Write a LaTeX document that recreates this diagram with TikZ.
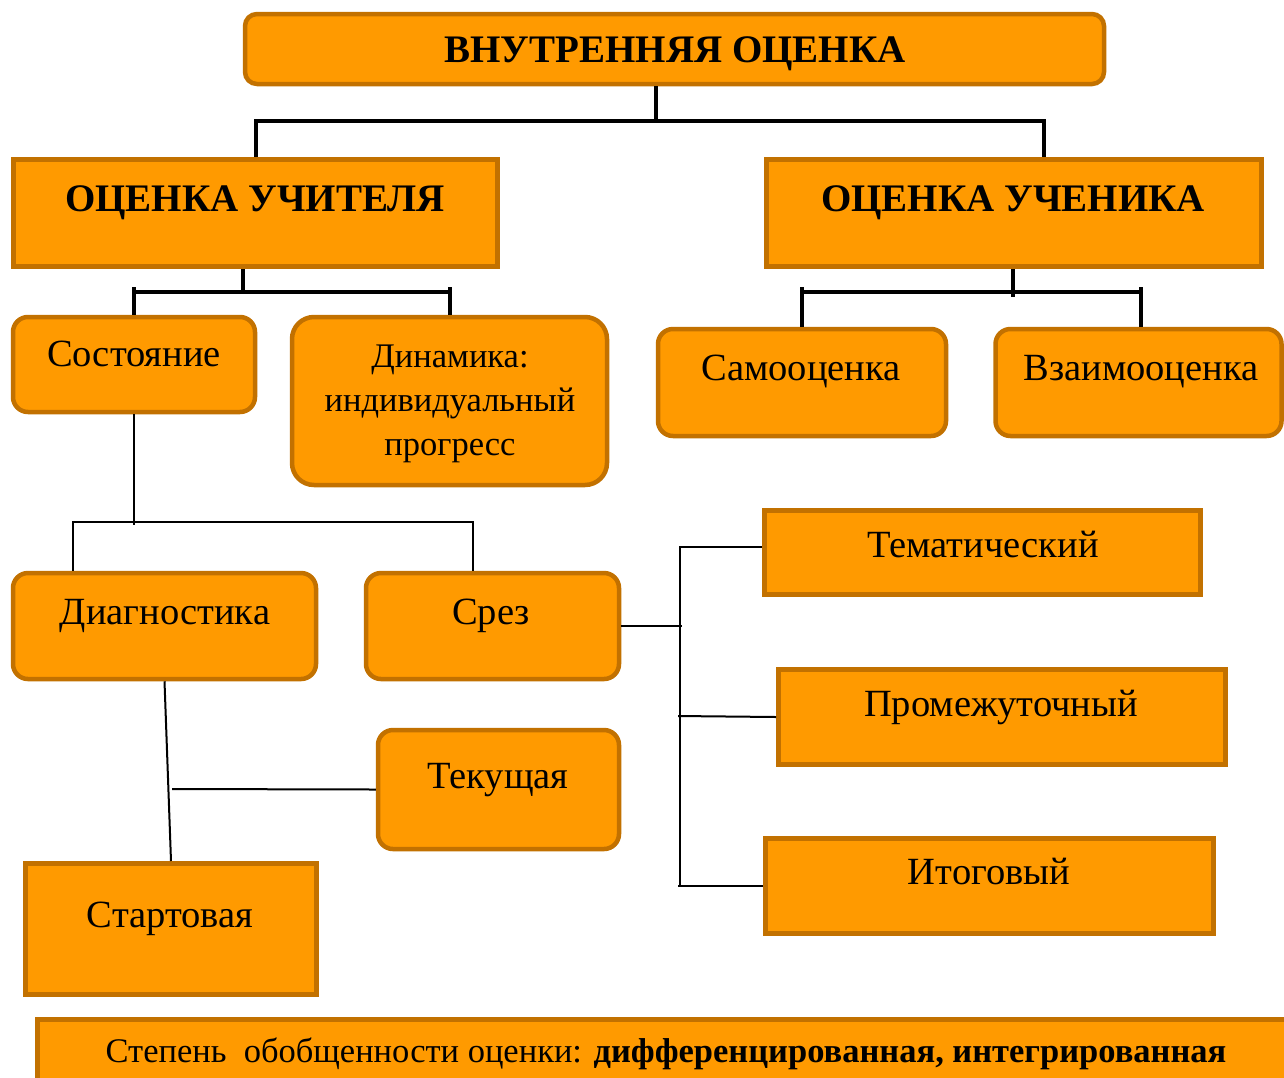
\documentclass[tikz,border=0pt]{standalone}
\usepackage{fontspec}
\setmainfont{Liberation Serif}
\definecolor{fillor}{HTML}{FF9A00}
\definecolor{edgeor}{HTML}{C27100}
\begin{document}
\begin{tikzpicture}[x=1pt,y=-1pt,
  sq/.style={draw=edgeor, fill=fillor, line width=5pt, inner sep=0pt},
  rd/.style={draw=edgeor, fill=fillor, line width=4.5pt, inner sep=0pt, rounded corners=15pt},
  lb/.style={anchor=base, inner sep=0pt, font=\fontsize{38.5}{44}\selectfont, align=center},
  hb/.style={anchor=base, inner sep=0pt, font=\fontsize{39}{44}\selectfont\bfseries},
  thk/.style={line width=4pt, black},
  thn/.style={line width=2pt, black}]
\useasboundingbox (0,0) rectangle (1284,1077);

% boxes
\node[rd, rounded corners=12pt, minimum width=859pt, minimum height=70pt] (top) at (674.5,49) {};
\node[sq, minimum width=484pt, minimum height=107pt] (teacher) at (255.5,213) {};
\node[sq, minimum width=495pt, minimum height=107pt] (student) at (1014,213) {};
\node[rd, minimum width=242pt, minimum height=95pt] (state) at (134,364.5) {};
\node[rd, rounded corners=22pt, minimum width=315pt, minimum height=168pt] (dyn) at (449.5,401) {};
\node[rd, minimum width=288pt, minimum height=107pt] (self) at (802,382.5) {};
\node[rd, minimum width=286pt, minimum height=107pt] (mutual) at (1138.5,382.5) {};
\node[rd, minimum width=303pt, minimum height=106pt] (diag) at (164.5,626) {};
\node[rd, minimum width=253pt, minimum height=106pt] (srez) at (492.5,626) {};
\node[rd, minimum width=241pt, minimum height=119pt] (tek) at (498.5,789.5) {};
\node[sq, minimum width=291pt, minimum height=131pt] (start) at (171,929) {};
\node[sq, minimum width=436pt, minimum height=84pt] (them) at (982.5,552.5) {};
\node[sq, minimum width=447pt, minimum height=95pt] (prom) at (1002,717) {};
\node[sq, minimum width=448pt, minimum height=95pt] (itog) at (989.5,886) {};
\node[sq, minimum width=1250pt, minimum height=78pt] (bottom) at (662.5,1058.5) {};

% texts
\node[hb] (topt) at (675,62) {ВНУТРЕННЯЯ ОЦЕНКА};
\node[hb] (teachert) at (255,211) {ОЦЕНКА УЧИТЕЛЯ};
\node[hb] (studentt) at (1013,211) {ОЦЕНКА УЧЕНИКА};
\node[lb] (statet) at (134,366) {Состояние};
\node[anchor=base, inner sep=0pt, font=\fontsize{34.5}{44}\selectfont, align=center] (dynt) at (450,455) {Динамика:\\индивидуальный\\прогресс};
\node[lb] (selft) at (801,380) {Самооценка};
\node[lb] (mutualt) at (1141,380) {Взаимооценка};
\node[lb] (diagt) at (165,624) {Диагностика};
\node[lb] (srezt) at (491,624) {Срез};
\node[lb] (tekt) at (498,788) {Текущая};
\node[lb] (startt) at (170,927) {Стартовая};
\node[lb] (themt) at (983,557) {Тематический};
\node[lb] (promt) at (1001,716) {Промежуточный};
\node[lb] (itogt) at (989,884) {Итоговый};
\node[anchor=base, inner sep=0pt, font=\fontsize{34.5}{40}\selectfont] (bottomt) at (666,1062) {Степень\ \ обобщенности оценки: \textbf{дифференцированная, интегрированная}};

% thick connectors
\coordinate (jt) at (656,121);
\coordinate (js) at (1044,121);
\draw[thk] (top.south -| jt) -- (jt);
\draw[thk] (teacher.north) -- (teacher.north |- js) -- (js) -- (js |- student.north);
\coordinate (ja) at (243,292);
\draw[thk] (ja |- teacher.south) -- (ja);
\draw[thk] (state.north |- ja) -- (dyn.north |- ja);
\draw[thk] ([yshift=5pt]state.north |- ja) -- (state.north);
\draw[thk] ([yshift=5pt]dyn.north |- ja) -- (dyn.north);
\coordinate (jb) at (1013,292);
\draw[thk] (jb |- student.south) -- ([yshift=-5pt]jb);
\draw[thk] (self.north |- jb) -- (1141,292);
\draw[thk] ([yshift=5pt]self.north |- jb) -- (self.north);
\draw[thk] ([yshift=5pt]1141,292) -- (1141,327);

% thin connectors
\coordinate (jc) at (134,522);
\coordinate (jcl) at (73,522);
\coordinate (jcr) at (473,522);
\draw[thn] (state.south) -- ([yshift=-3pt]jc);
\draw[thn] (jcl |- diag.north) -- (jcl) -- (jcr) -- (jcr |- srez.north);
\coordinate (jd) at (682,626);
\draw[thn] (srez.east) -- (jd);
\coordinate (bt) at (680,548);
\coordinate (bb) at (680,886);
\draw[thn] (bt) -- (bb);
\draw[thn] (679,547) -- (679,547 -| them.west);
\draw[thn] (678,716) -- (prom.west);
\draw[thn] (678,886) -- (itog.west);
\draw[thn] (diag.south) -- (start.north);
\coordinate (je) at (172,789);
\draw[thn] (je) -- (tek.west);
\end{tikzpicture}
\end{document}
